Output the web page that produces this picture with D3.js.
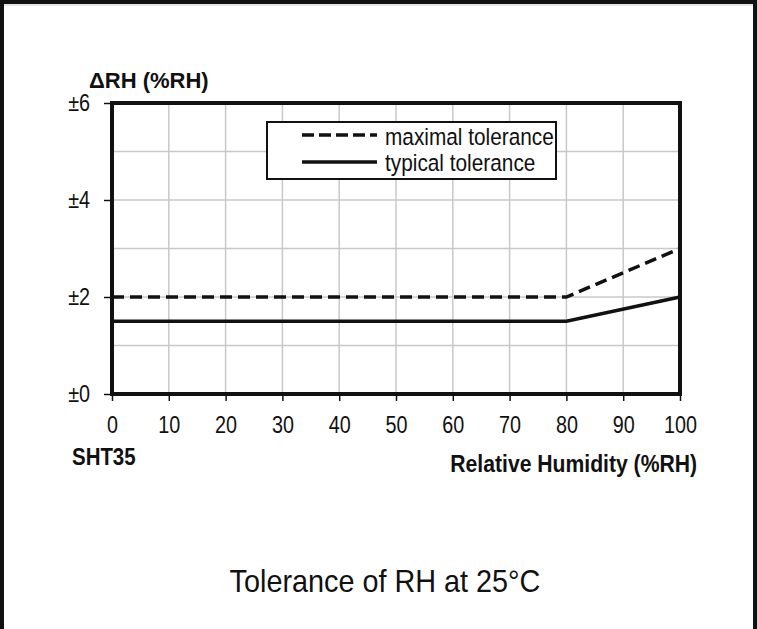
<!DOCTYPE html>
<html><head><meta charset="utf-8">
<script src="https://cdn.jsdelivr.net/npm/d3@7"></script>
<style>body{margin:0;background:#fff;} svg{display:block;font-family:"Liberation Sans",Arial,sans-serif;}</style>
</head><body>
<script>
const xTicks = [0,10,20,30,40,50,60,70,80,90,100];
const yTicks = [0,2,4,6];
const yTickLabels = ["±0","±2","±4","±6"];
const yGrid = [1,2,3,4,5];
const maxX = [0,80,100];
const maxY = [2,2,3];
const typX = [0,80,100];
const typY = [1.5,1.5,2];
const seriesNames = ["maximal tolerance","typical tolerance"];

const W=757,H=629;
const FONT="Liberation Sans, Arial, sans-serif";
const svg=d3.select("body").append("svg").attr("width",W).attr("height",H);
// page frame
svg.append("path").attr("d",`M2,${H} L2,2 L${W-2},2 L${W-2},${H}`).attr("fill","none").attr("stroke","#111").attr("stroke-width",4);
svg.append("line").attr("x1",4).attr("x2",W-4).attr("y1",5).attr("y2",5).attr("stroke","#ccc").attr("stroke-width",1);

const L=112,R=680,T=103,B=394;
const x=d3.scaleLinear().domain([0,100]).range([L,R]);
const y=d3.scaleLinear().domain([0,6]).range([B,T]);

function txt(px,py,str,size,weight,anchor,sx){
  svg.append("g").attr("transform",`translate(${px},${py})`)
   .append("text").attr("transform",`scale(${sx},1)`).attr("font-size",size).attr("font-weight",weight)
   .attr("text-anchor",anchor).attr("fill","#111").attr("font-family",FONT).text(str);
}

// grid
svg.append("g").selectAll("line").data(xTicks.slice(1,-1)).join("line")
 .attr("x1",d=>x(d)).attr("x2",d=>x(d)).attr("y1",T).attr("y2",B).attr("stroke","#c8c8c8").attr("stroke-width",1.5);
svg.append("g").selectAll("line").data(yGrid).join("line")
 .attr("x1",L).attr("x2",R).attr("y1",d=>y(d)).attr("y2",d=>y(d)).attr("stroke","#c8c8c8").attr("stroke-width",1.5);

// axes
const xa=svg.append("g").attr("transform",`translate(0,${B})`).call(d3.axisBottom(x).tickValues(xTicks).tickSize(7).tickFormat(d3.format("d")));
const ya=svg.append("g").attr("transform",`translate(${L},0)`).call(d3.axisLeft(y).tickValues(yTicks).tickSize(8).tickFormat((d,i)=>yTickLabels[i]));
[xa,ya].forEach(a=>{a.select(".domain").remove();a.selectAll("line").attr("stroke","#111").attr("stroke-width",1.5);
 a.selectAll("text").attr("font-size",23).attr("fill","#111").attr("font-family",FONT).attr("transform","scale(0.86,1)");});
xa.selectAll("text").attr("y",39).attr("dy",0);
ya.selectAll("text").attr("x",-22/0.86).attr("dy","0.32em");

// plot frame
svg.append("rect").attr("x",L).attr("y",T).attr("width",R-L).attr("height",B-T).attr("fill","none").attr("stroke","#111").attr("stroke-width",4);

const line=d3.line().x(d=>x(d[0])).y(d=>y(d[1]));
svg.append("path").attr("d",line(maxX.map((v,i)=>[v,maxY[i]]))).attr("fill","none").attr("stroke","#111").attr("stroke-width",3.5).attr("stroke-dasharray","12,6");
svg.append("path").attr("d",line(typX.map((v,i)=>[v,typY[i]]))).attr("fill","none").attr("stroke","#111").attr("stroke-width",3.5);

// legend
svg.append("rect").attr("x",267).attr("y",122).attr("width",289).attr("height",57).attr("fill","#fff").attr("stroke","#111").attr("stroke-width",2);
[0,1].forEach(i=>{
 const yy=i?162:135;
 svg.append("line").attr("x1",302).attr("x2",377).attr("y1",yy).attr("y2",yy).attr("stroke","#111").attr("stroke-width",3.5).attr("stroke-dasharray",i?null:"12,5");
 txt(385,i?171:145,seriesNames[i],24.5,"normal","start",0.85);
});

// labels
txt(89,88,"ΔRH (%RH)",22,"bold","start",1);
txt(72,465,"SHT35",23.5,"bold","start",0.87);
txt(697,472,"Relative Humidity (%RH)",23.5,"bold","end",0.9);
txt(385,592,"Tolerance of RH at 25°C",32,"normal","middle",0.9);
</script>
</body></html>
